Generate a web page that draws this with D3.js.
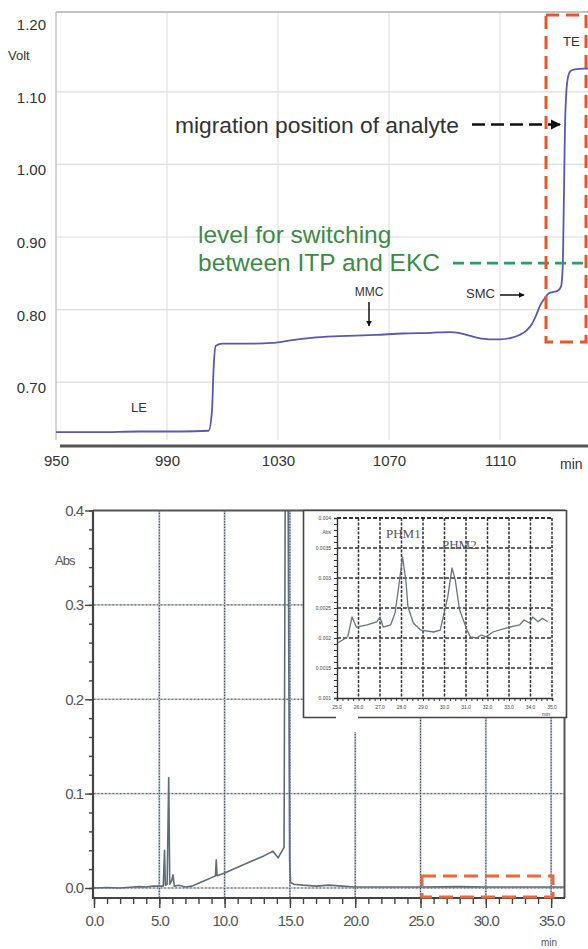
<!DOCTYPE html>
<html><head><meta charset="utf-8">
<script src="https://cdn.jsdelivr.net/npm/d3@7"></script>
<style>
html,body{margin:0;padding:0;background:#fff;}
svg{display:block;font-family:"Liberation Sans",Arial,sans-serif;}
</style></head><body>
<svg id="fig" width="588" height="949"></svg>
<script>
// ---- Upper panel: detector voltage during the ITP run ----
const voltTime = [950, 965, 980, 995, 1005, 1006.2, 1006.8, 1007.6, 1010, 1020, 1028, 1035, 1042, 1050, 1058, 1065, 1075, 1085, 1092, 1095, 1098, 1102, 1106, 1110, 1114, 1117, 1119.5, 1121.5, 1123, 1124.5, 1126, 1127.5, 1129, 1130.8, 1132, 1132.6, 1133, 1133.4, 1133.9, 1134.6, 1135.5, 1137, 1140, 1142];
const voltValue = [0.631, 0.631, 0.632, 0.632, 0.633, 0.66, 0.72, 0.750, 0.753, 0.753, 0.754, 0.758, 0.761, 0.763, 0.764, 0.765, 0.767, 0.768, 0.769, 0.768, 0.765, 0.761, 0.759, 0.759, 0.761, 0.765, 0.771, 0.780, 0.792, 0.806, 0.815, 0.822, 0.824, 0.826, 0.832, 0.86, 0.95, 1.05, 1.10, 1.122, 1.129, 1.131, 1.132, 1.132];
const voltYTicks = [0.70, 0.80, 0.90, 1.00, 1.10, 1.20];
const voltXTicks = [950, 990, 1030, 1070, 1110];
const voltGridY = [0.70, 0.80, 0.90, 1.00, 1.10];
const voltGridX = [990, 1030, 1070, 1110];
const switchLevel = 0.864;
const analyteLevel = 1.055;

// ---- Lower panel: UV absorbance electropherogram ----
const absTime = [0, 1, 2, 3, 3.5, 4, 4.5, 5, 5.3, 5.4, 5.46, 5.6, 5.72, 5.8, 5.95, 6.05, 6.15, 6.5, 7, 7.5, 8, 8.5, 9, 9.3, 9.36, 9.42, 10, 11, 12, 13, 13.7, 14.1, 14.3, 14.55, 14.65, 14.75, 14.85, 14.98, 15.05, 15.3, 16, 17, 18, 19, 20, 22, 25, 28, 30, 33, 35, 36];
const absValue = [0.000, 0.0005, 0.000, 0.001, 0.0015, 0.001, 0.002, 0.002, 0.002, 0.040, 0.003, 0.004, 0.117, 0.004, 0.008, 0.014, 0.002, 0.003, 0.001, 0.002, 0.005, 0.008, 0.011, 0.013, 0.030, 0.013, 0.016, 0.022, 0.028, 0.034, 0.039, 0.032, 0.037, 0.043, 0.45, 0.46, 0.45, 0.03, 0.006, 0.004, 0.003, 0.002, 0.003, 0.002, 0.001, 0.001, 0.001, 0.0015, 0.001, 0.001, 0.001, 0.001];
const absYTicks = [0.0, 0.1, 0.2, 0.3, 0.4];
const absXTicks = [0, 5, 10, 15, 20, 25, 30, 35];

// ---- Inset: zoom on 25-35 min ----
const insetTime = [25.05, 25.5, 25.7, 25.9, 26.4, 26.85, 27.0, 27.15, 27.5, 27.7, 27.85, 28.05, 28.2, 28.3, 28.55, 28.9, 29.5, 29.8, 30.15, 30.35, 30.5, 30.7, 31.05, 31.2, 31.5, 31.7, 31.95, 32.25, 32.9, 33.5, 33.7, 33.95, 34.1, 34.35, 34.55, 34.8];
const insetValue = [0.00192, 0.00202, 0.00235, 0.00218, 0.00222, 0.00227, 0.00235, 0.00218, 0.00222, 0.00242, 0.0028, 0.00335, 0.00297, 0.00252, 0.00225, 0.00213, 0.0021, 0.00213, 0.00268, 0.00317, 0.00297, 0.00247, 0.00213, 0.00202, 0.002, 0.00205, 0.00202, 0.0021, 0.00217, 0.00222, 0.0023, 0.00225, 0.00235, 0.00227, 0.00233, 0.00227];
const insetYTicks = [0.001, 0.0015, 0.002, 0.0025, 0.003, 0.0035, 0.004];
const insetYLabels = ["0.001", "0.0015", "0.002", "0.0025", "0.003", "0.0035", "0.004"];
const insetXTicks = [25, 26, 27, 28, 29, 30, 31, 32, 33, 34, 35];

const svg = d3.select("#fig");
const defs = svg.append("defs");
defs.append("marker").attr("id", "arrowK").attr("viewBox", "0 0 10 10")
  .attr("refX", 9).attr("refY", 5).attr("markerWidth", 4).attr("markerHeight", 4)
  .attr("orient", "auto").append("path").attr("d", "M0,0L10,5L0,10z").attr("fill", "#111");

// ================= Upper panel =================
const tx = d3.scaleLinear().domain([950, 1141.7]).range([56, 588]);
const ty = d3.scaleLinear().domain([0.612, 1.21]).range([446, 12]);
const upper = svg.append("g");

upper.append("g").selectAll("line").data(voltGridY).join("line")
  .attr("x1", tx.range()[0]).attr("x2", 588).attr("y1", d => ty(d)).attr("y2", d => ty(d))
  .attr("stroke", "#dedede").attr("stroke-width", 1.2);
upper.append("g").selectAll("line").data(voltGridX).join("line")
  .attr("x1", d => tx(d)).attr("x2", d => tx(d)).attr("y1", ty.range()[1]).attr("y2", 440)
  .attr("stroke", "#e2e2e2").attr("stroke-width", 1.2);
// frame (top + left)
upper.append("line").attr("x1", 56).attr("x2", 588).attr("y1", 12).attr("y2", 12).attr("stroke", "#b0b0b0").attr("stroke-width", 1.5);
upper.append("line").attr("x1", 56).attr("x2", 56).attr("y1", 12).attr("y2", 440).attr("stroke", "#c4c4c4").attr("stroke-width", 1.5);

// y labels
upper.append("g").selectAll("text").data(voltYTicks).join("text")
  .attr("x", 46).attr("y", d => ty(d) + 11).attr("text-anchor", "end")
  .attr("font-size", 15).attr("fill", "#333").text(d => d.toFixed(2));
upper.append("text").attr("x", 8).attr("y", 60).attr("font-size", 13).attr("fill", "#333").text("Volt");

// x axis
upper.append("line").attr("x1", 60).attr("x2", 588).attr("y1", 446).attr("y2", 446).attr("stroke", "#555").attr("stroke-width", 3);
const txAxis = upper.append("g").attr("transform", "translate(0,452)")
  .call(d3.axisBottom(tx).tickValues(voltXTicks).tickSize(0).tickFormat(d3.format("d")));
txAxis.select(".domain").remove();
txAxis.selectAll("text").attr("font-size", 15).attr("fill", "#333").attr("font-family", "Liberation Sans, Arial, sans-serif");
upper.append("text").attr("x", 560).attr("y", 469).attr("font-size", 14).attr("fill", "#333").text("min");

// voltage trace
const vLine = d3.line().x((d, i) => tx(voltTime[i])).y(d => ty(d)).curve(d3.curveMonotoneX);
upper.append("path").datum(voltValue).attr("d", vLine).attr("fill", "none")
  .attr("stroke", "#5759b4").attr("stroke-width", 1.8);

// annotations
upper.append("text").attr("x", 175).attr("y", 133).attr("font-size", 22.8).attr("fill", "#333")
  .text("migration position of analyte");
upper.append("line").attr("x1", 472).attr("x2", 560).attr("y1", ty(analyteLevel)).attr("y2", ty(analyteLevel))
  .attr("stroke", "#111").attr("stroke-width", 2.6).attr("stroke-dasharray", "13,6")
  .attr("marker-end", "url(#arrowK)");
upper.append("text").attr("x", 198).attr("y", 243).attr("font-size", 24.5).attr("fill", "#3d8a46")
  .text("level for switching");
upper.append("text").attr("x", 198).attr("y", 271).attr("font-size", 24.5).attr("fill", "#3d8a46")
  .text("between ITP and EKC");
upper.append("line").attr("x1", 453).attr("x2", 588).attr("y1", ty(switchLevel)).attr("y2", ty(switchLevel))
  .attr("stroke", "#2e9c66").attr("stroke-width", 2.6).attr("stroke-dasharray", "11,6");
upper.append("text").attr("x", 369).attr("y", 296).attr("text-anchor", "middle").attr("font-size", 12).attr("fill", "#333").text("MMC");
upper.append("line").attr("x1", 369).attr("x2", 369).attr("y1", 302).attr("y2", 326)
  .attr("stroke", "#111").attr("stroke-width", 1.5).attr("marker-end", "url(#arrowK)");
upper.append("text").attr("x", 466).attr("y", 298).attr("font-size", 13).attr("fill", "#333").text("SMC");
upper.append("line").attr("x1", 500).attr("x2", 524).attr("y1", 295).attr("y2", 295)
  .attr("stroke", "#111").attr("stroke-width", 1.5).attr("marker-end", "url(#arrowK)");
upper.append("text").attr("x", 131).attr("y", 412).attr("font-size", 13).attr("fill", "#333").text("LE");
upper.append("text").attr("x", 563).attr("y", 46).attr("font-size", 13).attr("fill", "#333").text("TE");
upper.append("rect").attr("x", 546).attr("y", 15).attr("width", 40).attr("height", 327)
  .attr("fill", "none").attr("stroke", "#e8562e").attr("stroke-width", 3).attr("stroke-dasharray", "13,7");

// ================= Lower panel =================
const bx = d3.scaleLinear().domain([0, 36]).range([94, 564.2]);
const by = d3.scaleLinear().domain([-0.0106, 0.4]).range([898, 510.5]);
const lower = svg.append("g");
defs.append("clipPath").attr("id", "clipB").append("rect")
  .attr("x", 93).attr("y", 510).attr("width", 472).attr("height", 388);

// gridlines
const gH = lower.append("g");
gH.selectAll("line.l").data([0, 0.1, 0.2, 0.3]).join("line").attr("class", "l")
  .attr("x1", 94).attr("x2", 564).attr("y1", d => by(d)).attr("y2", d => by(d))
  .attr("stroke", "#c2c8cf").attr("stroke-width", 1.6);
gH.selectAll("line.d").data([0, 0.1, 0.2, 0.3]).join("line").attr("class", "d")
  .attr("x1", 94).attr("x2", 564).attr("y1", d => by(d)).attr("y2", d => by(d))
  .attr("stroke", "#555").attr("stroke-width", 1).attr("stroke-dasharray", "1.5,2.2");
const gV = lower.append("g");
gV.selectAll("line.l").data(absXTicks.slice(1)).join("line").attr("class", "l")
  .attr("x1", d => bx(d)).attr("x2", d => bx(d)).attr("y1", 510).attr("y2", 898)
  .attr("stroke", "#b7c4d3").attr("stroke-width", 2);
gV.selectAll("line.d").data(absXTicks.slice(1)).join("line").attr("class", "d")
  .attr("x1", d => bx(d)).attr("x2", d => bx(d)).attr("y1", 510).attr("y2", 898)
  .attr("stroke", "#333").attr("stroke-width", 1).attr("stroke-dasharray", "1.2,1.6");

// trace
const aLine = d3.line().x((d, i) => bx(absTime[i])).y(d => by(d));
lower.append("path").datum(absValue).attr("d", aLine).attr("clip-path", "url(#clipB)")
  .attr("fill", "#c3ccd6").attr("fill-opacity", 0).attr("stroke", "#5f6c79").attr("stroke-width", 1.6).attr("stroke-linejoin", "round");

// frame and axes
lower.append("line").attr("x1", 93).attr("x2", 565).attr("y1", 510.5).attr("y2", 510.5).attr("stroke", "#555").attr("stroke-width", 2.2);
lower.append("line").attr("x1", 564.5).attr("x2", 564.5).attr("y1", 510).attr("y2", 898).attr("stroke", "#555").attr("stroke-width", 2);
const yMinor = d3.range(0, 0.4001, 0.02);
const yAx = lower.append("g").attr("transform", "translate(93,0)");
yAx.call(d3.axisLeft(by).tickValues(yMinor).tickSize(4).tickFormat(""));
yAx.call(g => g.select(".domain").remove());
const yAxM = lower.append("g").attr("transform", "translate(93,0)")
  .call(d3.axisLeft(by).tickValues(absYTicks).tickSize(8).tickPadding(2).tickFormat(d3.format(".1f")));
yAxM.select(".domain").remove();
lower.append("line").attr("x1", 93).attr("x2", 93).attr("y1", 510).attr("y2", 899).attr("stroke", "#444").attr("stroke-width", 2.2);
const xMinor = d3.range(0, 35.01, 1);
lower.append("g").attr("transform", "translate(0,898)")
  .call(d3.axisBottom(bx).tickValues(xMinor).tickSize(6).tickFormat(""))
  .call(g => g.select(".domain").remove());
const xAxM = lower.append("g").attr("transform", "translate(0,898)")
  .call(d3.axisBottom(bx).tickValues(absXTicks).tickSize(10).tickPadding(7).tickFormat(d3.format(".1f")));
xAxM.select(".domain").remove();
lower.append("line").attr("x1", 92).attr("x2", 565).attr("y1", 898).attr("y2", 898).attr("stroke", "#444").attr("stroke-width", 2.2);
lower.selectAll(".tick line").attr("stroke", "#444").attr("stroke-width", 1.4);
lower.selectAll(".tick text").attr("font-size", 15).attr("fill", "#555").attr("letter-spacing", "-1")
  .attr("font-family", "Liberation Sans, Arial, sans-serif");
lower.append("text").attr("x", 55).attr("y", 565).attr("font-size", 13).attr("letter-spacing", "-1").attr("fill", "#555").text("Abs");
lower.append("text").attr("x", 541).attr("y", 946).attr("font-size", 10).attr("fill", "#555").text("min");

lower.append("rect").attr("x", 422).attr("y", 876).attr("width", 131).attr("height", 21)
  .attr("fill", "none").attr("stroke", "#f0663c").attr("stroke-width", 3).attr("stroke-dasharray", "14,7");

// ================= Inset =================
const ix = d3.scaleLinear().domain([25, 35]).range([337, 552]);
const iy = d3.scaleLinear().domain([0.001, 0.004]).range([698, 518]);
const ins = svg.append("g");
ins.append("rect").attr("x", 303).attr("y", 510).attr("width", 264).attr("height", 208).attr("fill", "#fff");
ins.append("rect").attr("x", 338).attr("y", 716).attr("width", 22).attr("height", 16).attr("fill", "#fff");
ins.append("line").attr("x1", 303).attr("x2", 567).attr("y1", 510.5).attr("y2", 510.5).attr("stroke", "#444").attr("stroke-width", 1.6);
ins.append("line").attr("x1", 303.5).attr("x2", 303.5).attr("y1", 510).attr("y2", 718).attr("stroke", "#444").attr("stroke-width", 1.6);
ins.append("line").attr("x1", 566.5).attr("x2", 566.5).attr("y1", 510).attr("y2", 718).attr("stroke", "#444").attr("stroke-width", 1.6);
ins.append("line").attr("x1", 303).attr("x2", 336).attr("y1", 717.5).attr("y2", 717.5).attr("stroke", "#444").attr("stroke-width", 1.6);
ins.append("line").attr("x1", 358).attr("x2", 567).attr("y1", 717.5).attr("y2", 717.5).attr("stroke", "#444").attr("stroke-width", 1.6);

ins.append("g").selectAll("line").data(insetYTicks.slice(1)).join("line")
  .attr("x1", 337).attr("x2", 552).attr("y1", d => iy(d)).attr("y2", d => iy(d))
  .attr("stroke", "#333").attr("stroke-width", d => d === 0.004 ? 1.8 : 1.3).attr("stroke-dasharray", "4,2");
ins.append("g").selectAll("line").data(insetXTicks.slice(1)).join("line")
  .attr("x1", d => ix(d)).attr("x2", d => ix(d)).attr("y1", 518).attr("y2", 698)
  .attr("stroke", "#333").attr("stroke-width", 1.5).attr("stroke-dasharray", "3,1.5");
const iyAx = ins.append("g").attr("transform", "translate(337,0)")
  .call(d3.axisLeft(iy).tickValues(d3.range(0.001, 0.00401, 0.0001)).tickSize(3).tickFormat(""));
iyAx.select(".domain").attr("stroke", "#333").attr("stroke-width", 1.4);
const ixAx = ins.append("g").attr("transform", "translate(0,698)")
  .call(d3.axisBottom(ix).tickValues(d3.range(25, 35.01, 0.25)).tickSize(3).tickFormat(""));
ixAx.select(".domain").attr("stroke", "#333").attr("stroke-width", 1.6);
ins.selectAll(".tick line").attr("stroke", "#333");
ins.append("g").selectAll("text").data(insetYTicks).join("text")
  .attr("x", 331).attr("y", d => iy(d) + 2).attr("text-anchor", "end")
  .attr("font-size", 5).attr("fill", "#444").text((d, i) => insetYLabels[i]);
ins.append("text").attr("x", 331).attr("y", 534).attr("text-anchor", "end").attr("font-size", 5).attr("fill", "#444").text("Abs");
ins.append("g").selectAll("text").data(insetXTicks).join("text")
  .attr("x", d => ix(d)).attr("y", 709).attr("text-anchor", "middle")
  .attr("font-size", 5).attr("fill", "#444").text(d => d.toFixed(1));
ins.append("text").attr("x", 546).attr("y", 716).attr("text-anchor", "middle").attr("font-size", 5).attr("fill", "#444").text("min");

const iLine = d3.line().x((d, i) => ix(insetTime[i])).y(d => iy(d));
ins.append("path").datum(insetValue).attr("d", iLine).attr("fill", "none")
  .attr("stroke", "#6a7480").attr("stroke-width", 1.3).attr("stroke-linejoin", "round");
ins.append("text").attr("x", 386).attr("y", 538).attr("font-family", "Liberation Serif, serif")
  .attr("font-size", 13).attr("fill", "#555").text("PHM1");
ins.append("text").attr("x", 442).attr("y", 549).attr("font-family", "Liberation Serif, serif")
  .attr("font-size", 13).attr("fill", "#555").text("PHM2");
</script></body></html>
